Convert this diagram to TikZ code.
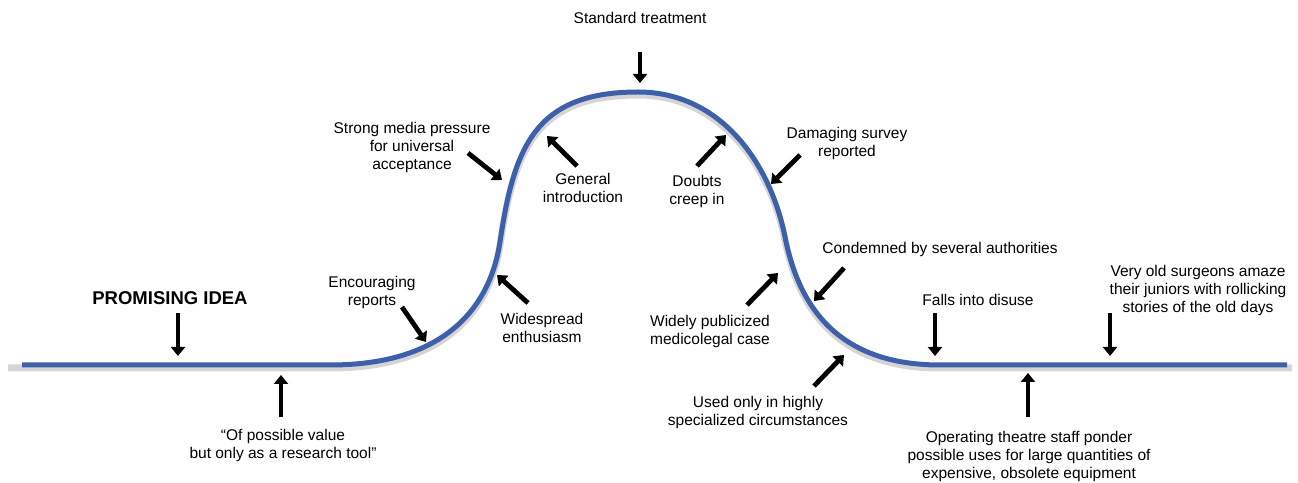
\documentclass[tikz,border=0pt]{standalone}
\usepackage{fontspec}
\setmainfont{Liberation Sans}
\usetikzlibrary{arrows.meta}
\definecolor{hypeblue}{RGB}{62,96,170}

\begin{document}
\begin{tikzpicture}
[x=1pt, y=1pt,
 lbl/.style={align=center, inner sep=0pt, font=\fontsize{15.5}{18}\selectfont},
 pointer/.style={line width=4.8pt, -{Triangle[width=14pt,length=9pt]}},
 curve/.style={hypeblue, line width=5pt},
 curveshadow/.style={black!30, line width=7pt, opacity=0.55}]
\useasboundingbox (0,0) rectangle (1298,482);
\draw[curveshadow, yshift=-3pt] (8,117) -- (330,117) .. controls (450,117) and (491,180) .. (500,240) .. controls (514,335) and (535,390) .. (638,390) .. controls (720,390) and (770,320) .. (785,245) .. controls (797,185) and (830,117) .. (940,117) -- (1292,117);
\draw[curve] (22,117) -- (330,117) .. controls (450,117) and (491,180) .. (500,240) .. controls (514,335) and (535,390) .. (638,390) .. controls (720,390) and (770,320) .. (785,245) .. controls (797,185) and (830,117) .. (940,117) -- (1287,117);
\node[lbl] (std) at (640,464) {Standard treatment};
\node[lbl, font=\fontsize{18.5}{22}\selectfont\bfseries] (idea) at (170,184) {PROMISING IDEA};
\node[lbl] (research) at (283,37) {“Of possible value\\but only as a research tool”};
\node[lbl] (encour) at (372,190) {Encouraging\\reports};
\node[lbl] (media) at (412,335) {Strong media pressure\\for universal\\acceptance};
\node[lbl] (widesp) at (542,154) {Widespread\\enthusiasm};
\node[lbl] (general) at (583,294) {General\\introduction};
\node[lbl] (doubts) at (697,291) {Doubts\\creep in};
\node[lbl] (damaging) at (847,339) {Damaging survey\\reported};
\node[lbl] (condemned) at (940,233) {Condemned by several authorities};
\node[lbl] (widely) at (710,151) {Widely publicized\\medicolegal case};
\node[lbl] (used) at (758,70) {Used only in highly\\specialized circumstances};
\node[lbl] (falls) at (978,182) {Falls into disuse};
\node[lbl] (surgeons) at (1198,192) {Very old surgeons amaze\\their juniors with rollicking\\stories of the old days};
\node[lbl] (theatre) at (1029,26) {Operating theatre staff ponder\\possible uses for large quantities of\\expensive, obsolete equipment};
\coordinate (std-t) at (640,430);
\coordinate (std-h) at (640,399);
\coordinate (idea-t) at (178,169);
\coordinate (idea-h) at (178,126);
\coordinate (research-t) at (281,65);
\coordinate (research-h) at (281,107);
\coordinate (encour-t) at (402,175);
\coordinate (encour-h) at (426,140);
\coordinate (media-t) at (468,329);
\coordinate (media-h) at (502,302);
\coordinate (widesp-t) at (528,179);
\coordinate (widesp-h) at (497,207);
\coordinate (general-t) at (577,316);
\coordinate (general-h) at (547,346);
\coordinate (doubts-t) at (697,316);
\coordinate (doubts-h) at (726,347);
\coordinate (damaging-t) at (800,327);
\coordinate (damaging-h) at (771,298);
\coordinate (condemned-t) at (844,214);
\coordinate (condemned-h) at (814,181);
\coordinate (widely-t) at (747,177);
\coordinate (widely-h) at (778,209);
\coordinate (used-t) at (814,96);
\coordinate (used-h) at (844,127);
\coordinate (falls-t) at (935,169);
\coordinate (falls-h) at (935,126);
\coordinate (surgeons-t) at (1110,169);
\coordinate (surgeons-h) at (1110,126);
\coordinate (theatre-t) at (1028,65);
\coordinate (theatre-h) at (1028,109);
\draw[pointer] (std-t) -- (std-h);
\draw[pointer] (idea-t) -- (idea-h);
\draw[pointer] (research-t) -- (research-h);
\draw[pointer] (encour-t) -- (encour-h);
\draw[pointer] (media-t) -- (media-h);
\draw[pointer] (widesp-t) -- (widesp-h);
\draw[pointer] (general-t) -- (general-h);
\draw[pointer] (doubts-t) -- (doubts-h);
\draw[pointer] (damaging-t) -- (damaging-h);
\draw[pointer] (condemned-t) -- (condemned-h);
\draw[pointer] (widely-t) -- (widely-h);
\draw[pointer] (used-t) -- (used-h);
\draw[pointer] (falls-t) -- (falls-h);
\draw[pointer] (surgeons-t) -- (surgeons-h);
\draw[pointer] (theatre-t) -- (theatre-h);
\end{tikzpicture}
\end{document}
